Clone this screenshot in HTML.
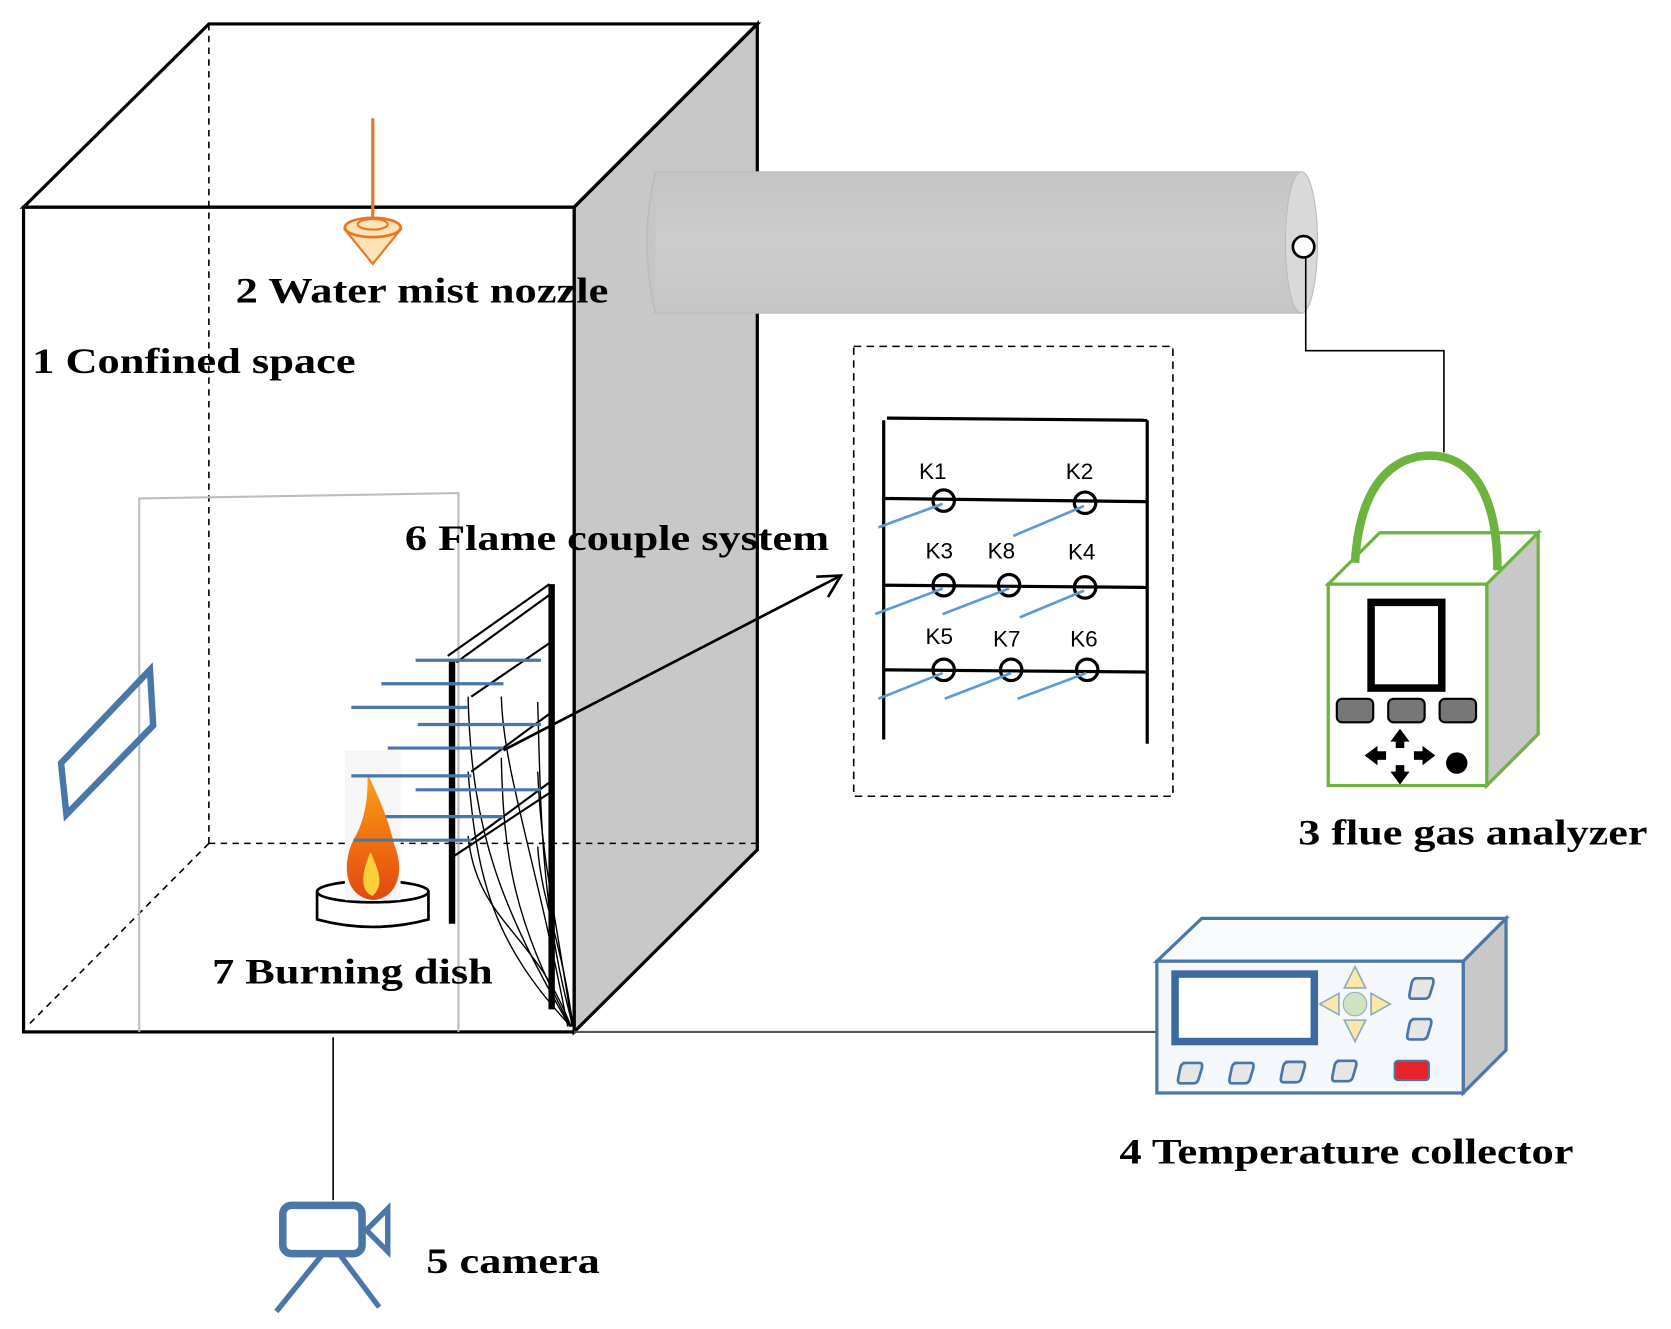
<!DOCTYPE html>
<html><head><meta charset="utf-8"><style>html,body{margin:0;padding:0;background:#fff}svg{display:block}</style></head>
<body>
<svg width="1671" height="1329" viewBox="0 0 1560 1240" xmlns="http://www.w3.org/2000/svg">
<defs>
<linearGradient id="cyl" x1="0" y1="0" x2="0" y2="1"><stop offset="0" stop-color="#c4c4c4"/><stop offset="0.5" stop-color="#cdcdcd"/><stop offset="1" stop-color="#c6c6c6"/></linearGradient>
<linearGradient id="fl" x1="0" y1="0" x2="0" y2="1"><stop offset="0" stop-color="#f7a21b"/><stop offset="0.6" stop-color="#f06a10"/><stop offset="1" stop-color="#e04810"/></linearGradient>
</defs>
<style>.t{font-family:"Liberation Serif",serif;font-weight:bold;font-size:34px;fill:#000}.k{font-family:"Liberation Sans",sans-serif;font-size:21px;fill:#000}</style>

<!-- box right face -->
<polygon points="536,193 707,22 707,793 536,963" fill="#c8c8c8" stroke="#000" stroke-width="3"/>
<!-- top and front -->
<polygon points="22,193 195,22 707,22 536,193" fill="none" stroke="#000" stroke-width="3"/>
<rect x="22" y="193" width="514" height="770" fill="none" stroke="#000" stroke-width="3"/>
<g stroke="#000" stroke-width="1.5" stroke-dasharray="6,5" fill="none">
<line x1="195" y1="22" x2="195" y2="787"/><line x1="195" y1="787" x2="707" y2="787"/><line x1="195" y1="787" x2="25" y2="958"/>
</g>

<!-- cylinder (in front of box side) -->
<rect x="610" y="160" width="605" height="132" fill="url(#cyl)"/>
<path d="M612 160 Q596 226 612 292" fill="#c6c6c6" stroke="#bbb" stroke-width="1.5"/>
<line x1="610" y1="160" x2="1215" y2="160" stroke="#bbb"/>
<line x1="610" y1="292" x2="1215" y2="292" stroke="#bbb"/>
<ellipse cx="1215" cy="226" rx="15" ry="66" fill="#d9d9d9" stroke="#bbb"/>

<!-- inner faint rect -->
<g stroke="#bdbdbd" stroke-width="2" fill="none"><polyline points="130,963 130,465 428,460 428,963"/></g>

<!-- nozzle -->
<line x1="348" y1="110" x2="348" y2="205" stroke="#e87722" stroke-width="3"/>
<polygon points="322,214 374,214 348,246" fill="#fde3b8" stroke="#e87722" stroke-width="2"/>
<ellipse cx="348" cy="212" rx="26" ry="9" fill="#fde3b8" stroke="#e87722" stroke-width="2.5"/>
<ellipse cx="348" cy="209" rx="14" ry="5" fill="none" stroke="#e87722" stroke-width="2"/>

<!-- window -->
<polygon points="57,712 140,625 143,677 62,760" fill="none" stroke="#4a76a8" stroke-width="6"/>

<!-- flame & dish -->
<path d="M296 832 L296 858 Q348 872 400 858 L400 832" fill="#fff" stroke="#000" stroke-width="2.5"/>
<ellipse cx="348" cy="832" rx="52" ry="10" fill="#fff" stroke="#000" stroke-width="2.5"/>
<rect x="322" y="700" width="52" height="140" fill="#f6f6f6"/>
<path d="M348 840 C318 836 320 800 332 780 C340 766 344 745 343 722 C356 748 364 770 368 788 C378 812 372 838 348 840 Z" fill="url(#fl)"/>
<path d="M348 836 C335 832 338 812 346 795 C352 810 360 824 348 836 Z" fill="#fcd03a"/>

<!-- thermocouple rack -->
<g stroke="#000" fill="none">
<line x1="422" y1="615" x2="422" y2="862" stroke-width="6"/>
<line x1="515" y1="545" x2="515" y2="942" stroke-width="6"/>
<line x1="418" y1="612" x2="513" y2="545" stroke-width="2"/>
<line x1="426" y1="618" x2="513" y2="555" stroke-width="2"/>
<line x1="440" y1="720" x2="513" y2="666" stroke-width="2"/>
<line x1="440" y1="784" x2="513" y2="730" stroke-width="2"/>
<line x1="440" y1="650" x2="513" y2="600" stroke-width="2"/>
<line x1="422" y1="800" x2="513" y2="740" stroke-width="2"/>
<g stroke-width="1.3">
<path d="M468 707 C470 800 480 860 533 958"/>
<path d="M502 655 C505 760 505 850 535 958"/>
<path d="M468 650 C470 720 500 800 530 958"/>
<path d="M437 650 C440 780 470 850 532 958"/>
<path d="M437 720 C445 820 460 880 533 958"/>
<path d="M437 780 C445 860 500 870 533 958"/>
<path d="M502 720 C505 800 520 860 534 958"/>
<path d="M502 790 C505 840 525 880 535 958"/>
</g>
</g>
<g stroke="#4a76a8" stroke-width="3">
<line x1="388" y1="616" x2="505" y2="616"/>
<line x1="356" y1="638" x2="470" y2="638"/>
<line x1="328" y1="660" x2="437" y2="660"/>
<line x1="390" y1="676" x2="505" y2="676"/>
<line x1="362" y1="698" x2="470" y2="698"/>
<line x1="328" y1="724" x2="440" y2="724"/>
<line x1="388" y1="737" x2="505" y2="737"/>
<line x1="360" y1="762" x2="470" y2="762"/>
<line x1="330" y1="784" x2="440" y2="784"/>
</g>

<!-- arrow -->
<line x1="470" y1="700" x2="785" y2="537" stroke="#000" stroke-width="2.5"/>
<polyline points="762,538 785,537 773,557" fill="none" stroke="#000" stroke-width="2.5"/>

<!-- dashed K box -->
<rect x="797" y="323" width="298" height="420" fill="none" stroke="#000" stroke-width="1.5" stroke-dasharray="7,5"/>
<g stroke="#000" stroke-width="3" fill="none">
<line x1="825" y1="392" x2="825" y2="690"/>
<line x1="1071" y1="392" x2="1071" y2="694"/>
<line x1="828" y1="390" x2="1071" y2="392"/>
<line x1="825" y1="465" x2="1071" y2="468"/>
<line x1="825" y1="546" x2="1071" y2="548"/>
<line x1="825" y1="625" x2="1071" y2="627"/>
<circle cx="881" cy="467" r="10" fill="none"/>
<circle cx="1013" cy="469" r="10"/>
<circle cx="881" cy="546" r="10"/>
<circle cx="942" cy="546" r="10"/>
<circle cx="1013" cy="548" r="10"/>
<circle cx="881" cy="625" r="10"/>
<circle cx="944" cy="625" r="10"/>
<circle cx="1015" cy="625" r="10"/>
</g>
<g stroke="#5b9bd5" stroke-width="2.5">
<line x1="820" y1="492" x2="880" y2="470"/>
<line x1="946" y1="500" x2="1012" y2="472"/>
<line x1="817" y1="573" x2="880" y2="549"/>
<line x1="880" y1="573" x2="942" y2="549"/>
<line x1="952" y1="576" x2="1012" y2="551"/>
<line x1="820" y1="652" x2="880" y2="628"/>
<line x1="882" y1="652" x2="944" y2="628"/>
<line x1="950" y1="652" x2="1014" y2="628"/>
</g>
<text class="k" x="858" y="447">K1</text><text class="k" x="995" y="447">K2</text>
<text class="k" x="864" y="521">K3</text><text class="k" x="922" y="521">K8</text><text class="k" x="997" y="522">K4</text>
<text class="k" x="864" y="601">K5</text><text class="k" x="927" y="603">K7</text><text class="k" x="999" y="603">K6</text>

<!-- connectors -->
<circle cx="1217" cy="230" r="10" fill="#fff" stroke="#000" stroke-width="2.5"/>
<polyline points="1219,240 1219,327 1348,327 1348,422" fill="none" stroke="#000" stroke-width="1.5"/>
<line x1="536" y1="963" x2="1080" y2="963" stroke="#555" stroke-width="2"/>
<line x1="311" y1="968" x2="311" y2="1120" stroke="#000" stroke-width="1.5"/>

<!-- analyzer -->
<polygon points="1388,545 1436,497 1436,685 1388,733" fill="#c8c8c8" stroke="#6db33f" stroke-width="3"/>
<polygon points="1240,545 1288,497 1436,497 1388,545" fill="#fff" stroke="#6db33f" stroke-width="3"/>
<rect x="1240" y="545" width="148" height="188" fill="#fff" stroke="#6db33f" stroke-width="3"/>
<path d="M1265 525 C1270 440 1310 425 1335 425 C1370 425 1398 455 1398 532" fill="none" stroke="#6db33f" stroke-width="8"/>
<rect x="1280" y="562" width="66" height="80" fill="#fff" stroke="#000" stroke-width="7"/>
<g fill="#777" stroke="#000" stroke-width="2">
<rect x="1248" y="652" width="34" height="22" rx="5"/><rect x="1296" y="652" width="34" height="22" rx="5"/><rect x="1344" y="652" width="34" height="22" rx="5"/>
</g>
<g fill="#000">
<polygon points="1307,680 1298,692 1316,692"/><rect x="1303" y="690" width="8" height="8"/>
<polygon points="1307,732 1298,720 1316,720"/><rect x="1303" y="714" width="8" height="8"/>
<polygon points="1274,705 1286,696 1286,714"/><rect x="1284" y="701" width="10" height="8"/>
<polygon points="1340,705 1328,696 1328,714"/><rect x="1320" y="701" width="10" height="8"/>
<circle cx="1360" cy="712" r="10"/>
</g>

<!-- temperature collector -->
<polygon points="1366,897 1406,857 1406,980 1366,1020" fill="#c8c8c8" stroke="#4a76a8" stroke-width="3"/>
<polygon points="1080,897 1122,857 1406,857 1366,897" fill="#f8fafd" stroke="#4a76a8" stroke-width="3"/>
<rect x="1080" y="897" width="286" height="123" fill="#f4f7fb" stroke="#4a76a8" stroke-width="3"/>
<rect x="1097" y="909" width="130" height="63" fill="#fff" stroke="#3d6aa0" stroke-width="7"/>
<g fill="#fde7a8" stroke="#8aa8c8" stroke-width="1.5">
<polygon points="1265,902 1255,922 1275,922"/><polygon points="1265,972 1255,952 1275,952"/>
<polygon points="1232,937 1250,927 1250,947"/><polygon points="1298,937 1280,927 1280,947"/>
</g>
<circle cx="1265" cy="937" r="11" fill="#cfe3c0" stroke="#9ab"/>
<g fill="#e6e6e6" stroke="#4a76a8" stroke-width="2.5">
<path d="M1320 913 h16 q3 0 2 5 l-3 10 q-1 4 -5 4 h-12 q-3 0 -2 -5 l2 -10 q1 -4 5 -4z"/>
<path d="M1318 951 h16 q3 0 2 5 l-3 10 q-1 4 -5 4 h-12 q-3 0 -2 -5 l2 -10 q1 -4 5 -4z"/>
<path d="M1104 992 h16 q3 0 2 5 l-3 10 q-1 4 -5 4 h-12 q-3 0 -2 -5 l2 -10 q1 -4 5 -4z"/>
<path d="M1152 992 h16 q3 0 2 5 l-3 10 q-1 4 -5 4 h-12 q-3 0 -2 -5 l2 -10 q1 -4 5 -4z"/>
<path d="M1200 991 h16 q3 0 2 5 l-3 10 q-1 4 -5 4 h-12 q-3 0 -2 -5 l2 -10 q1 -4 5 -4z"/>
<path d="M1248 990 h16 q3 0 2 5 l-3 10 q-1 4 -5 4 h-12 q-3 0 -2 -5 l2 -10 q1 -4 5 -4z"/>
</g>
<rect x="1302" y="990" width="32" height="18" rx="3" fill="#e8242a" stroke="#4a76a8" stroke-width="2"/>

<!-- camera -->
<rect x="264" y="1125" width="74" height="45" rx="8" fill="none" stroke="#4a76a8" stroke-width="7"/>
<polygon points="342,1148 362,1128 362,1168" fill="none" stroke="#4a76a8" stroke-width="5"/>
<line x1="300" y1="1172" x2="258" y2="1224" stroke="#4a76a8" stroke-width="5"/>
<line x1="318" y1="1172" x2="354" y2="1220" stroke="#4a76a8" stroke-width="5"/>

<!-- labels -->
<text class="t" x="220" y="282" textLength="348" lengthAdjust="spacingAndGlyphs">2 Water mist nozzle</text>
<text class="t" x="30" y="348" textLength="302" lengthAdjust="spacingAndGlyphs">1 Confined space</text>
<text class="t" x="378" y="513" textLength="396" lengthAdjust="spacingAndGlyphs">6 Flame couple system</text>
<text class="t" x="198" y="918" textLength="262" lengthAdjust="spacingAndGlyphs">7 Burning dish</text>
<text class="t" x="1212" y="788" textLength="326" lengthAdjust="spacingAndGlyphs">3 flue gas analyzer</text>
<text class="t" x="1045" y="1086" textLength="424" lengthAdjust="spacingAndGlyphs">4 Temperature collector</text>
<text class="t" x="398" y="1188" textLength="162" lengthAdjust="spacingAndGlyphs">5 camera</text>
</svg>
</body></html>
